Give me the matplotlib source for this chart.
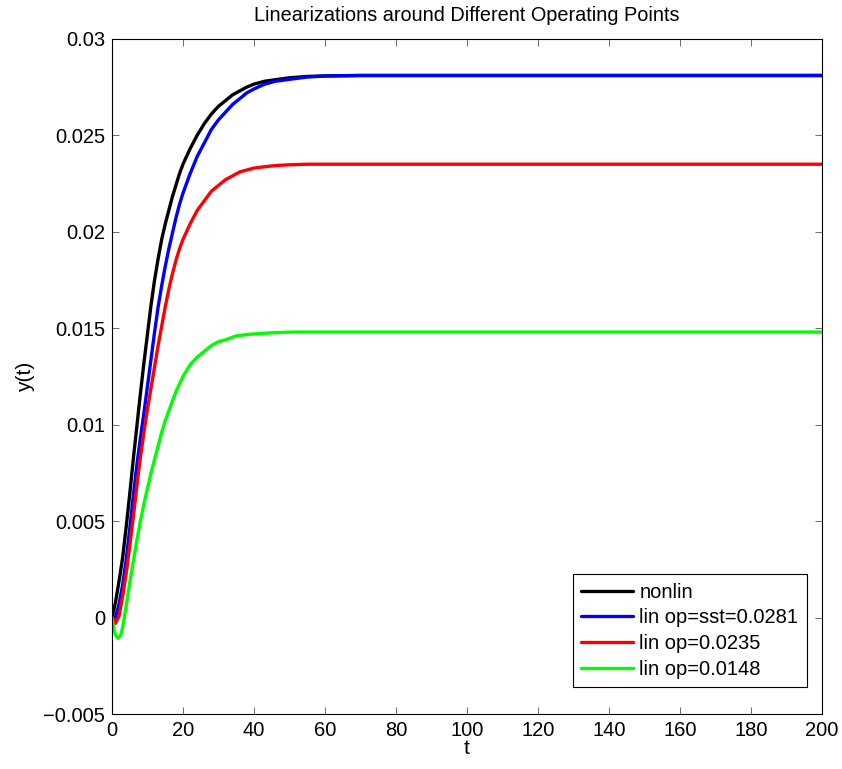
import matplotlib
matplotlib.use("Agg")
import matplotlib.pyplot as plt
from matplotlib.ticker import FuncFormatter

plt.rcParams['font.family'] = ['Liberation Sans', 'DejaVu Sans']

# step responses: nonlinear model and three linearizations
t_nonlin = [0, 1, 2, 3, 4, 5, 6, 7, 8, 9, 10, 11, 12, 13, 14, 15, 16, 17, 18,
            19, 20, 22, 24, 26, 28, 30, 32, 34, 36, 38, 40, 43, 46, 50, 55,
            60, 70, 80, 100, 200]
y_nonlin = [0, 0.0008, 0.0019, 0.0031, 0.0047, 0.0064, 0.0082, 0.0099,
            0.0116, 0.0132, 0.0147, 0.0162, 0.0175, 0.0186, 0.0196, 0.0204,
            0.0211, 0.0218, 0.0224, 0.0230, 0.0235, 0.0243, 0.0250, 0.0256,
            0.0261, 0.0265, 0.0268, 0.0271, 0.0273, 0.0275, 0.02765, 0.0278,
            0.02788, 0.02798, 0.02805, 0.02808, 0.0281, 0.0281, 0.0281, 0.0281]

t_sst = [0, 0.8, 2, 3, 4, 5, 6, 7, 8, 9, 10, 11, 12, 13, 14, 15, 16, 17, 18,
         19, 20, 22, 24, 26, 28, 30, 32, 34, 36, 38, 40, 43, 46, 50, 55, 60,
         70, 80, 100, 200]
y_sst = [0, -0.0001, 0.0007, 0.0017, 0.0030, 0.0046, 0.0063, 0.0079, 0.0093,
         0.0106, 0.0120, 0.0134, 0.0148, 0.0161, 0.0172, 0.0182, 0.0191,
         0.0199, 0.0207, 0.0214, 0.0220, 0.0230, 0.0239, 0.0246, 0.0253,
         0.0258, 0.0262, 0.0266, 0.0269, 0.0272, 0.0274, 0.02765, 0.0278,
         0.0279, 0.02802, 0.02807, 0.0281, 0.0281, 0.0281, 0.0281]

t_op1 = [0, 1, 2, 3, 4, 5, 6, 7, 8, 9, 10, 11, 12, 13, 14, 15, 16, 17, 18, 19,
         20, 22, 24, 26, 28, 30, 32, 34, 36, 38, 40, 43, 46, 50, 55, 65, 80,
         100, 200]
y_op1 = [0, -0.0003, 0.0001, 0.0011, 0.0023, 0.0037, 0.0052, 0.0068, 0.0083,
         0.0096, 0.0108, 0.0119, 0.0130, 0.0141, 0.0151, 0.0161, 0.0170,
         0.0178, 0.0185, 0.0191, 0.0196, 0.0204, 0.0211, 0.0216, 0.0221,
         0.0224, 0.0227, 0.0229, 0.0231, 0.0232, 0.0233, 0.02337, 0.02343,
         0.02347, 0.0235, 0.0235, 0.0235, 0.0235, 0.0235]

t_op2 = [0, 0.5, 1, 1.7, 2.5, 3, 4, 5, 6, 7, 8, 9, 10, 11, 12, 13, 14, 15, 16,
         17, 18, 19, 20, 22, 24, 26, 28, 30, 32, 35, 38, 42, 46, 51, 60, 80,
         100, 200]
y_op2 = [0, -0.0006, -0.0009, -0.00107, -0.0009, -0.0005, 0.0006, 0.0018,
         0.0029, 0.0040, 0.0050, 0.0059, 0.0067, 0.0075, 0.0082, 0.0089,
         0.0096, 0.0102, 0.0107, 0.0112, 0.0117, 0.0121, 0.0125, 0.0131,
         0.0135, 0.0138, 0.0141, 0.0143, 0.0144, 0.0146, 0.01467, 0.01473,
         0.01477, 0.0148, 0.0148, 0.0148, 0.0148, 0.0148]

labels = ["nonlin", "lin op=sst=0.0281", "lin op=0.0235", "lin op=0.0148"]
colors = ["black", "blue", "red", "#00ff00"]

fig = plt.figure(figsize=(8.42, 7.69), dpi=100)
ax = fig.add_axes([0.133, 0.0715, 0.843, 0.878])

series = [(t_nonlin, y_nonlin), (t_sst, y_sst), (t_op1, y_op1), (t_op2, y_op2)]
for (t, y), lab, c in zip(series, labels, colors):
    ax.plot(t, y, color=c, lw=2.4, label=lab, solid_joinstyle="round",
            solid_capstyle="round")

ax.set_xlim(0, 200)
ax.set_ylim(-0.005, 0.03)
ax.set_xticks(range(0, 201, 20))
ax.set_yticks([-0.005, 0, 0.005, 0.01, 0.015, 0.02, 0.025, 0.03])
ax.yaxis.set_major_formatter(FuncFormatter(lambda v, p: ("%g" % round(v, 4)).replace("-", "\u2212")))

ax.tick_params(direction="in", top=True, right=True, length=5, width=0.6,
               labelsize=14.5, pad=5, color="#555555")
for s in ax.spines.values():
    s.set_linewidth(0.8)

ax.set_title("Linearizations around Different Operating Points", fontsize=14.3, pad=13)
ax.set_xlabel("t", fontsize=15, labelpad=-1)
ax.set_ylabel("y(t)", fontsize=15, labelpad=6)

leg = ax.legend(loc="lower right", bbox_to_anchor=(0.979, 0.04), fontsize=14.5,
                frameon=True, fancybox=False, framealpha=1, edgecolor="black",
                handlelength=2.6, handletextpad=0.3, labelspacing=0.33,
                borderpad=0.42, borderaxespad=0)
leg.get_frame().set_linewidth(0.8)

fig.savefig("out.png", dpi=100)
